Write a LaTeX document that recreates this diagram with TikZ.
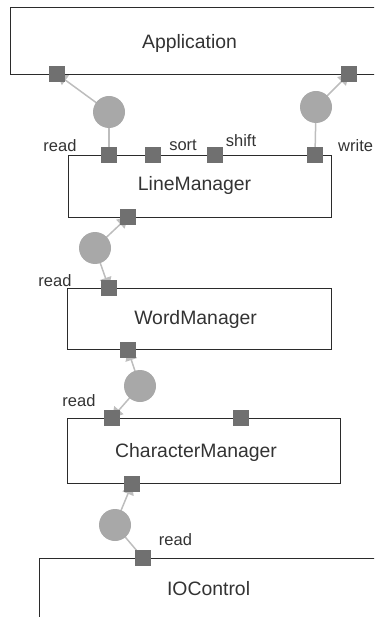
\documentclass[tikz,border=0pt]{standalone}
\usepackage{fontspec}
\setmainfont{Liberation Sans}
\usetikzlibrary{arrows.meta,backgrounds}
\definecolor{portc}{HTML}{707070}
\definecolor{circc}{HTML}{A8A8A8}
\definecolor{linec}{HTML}{BDBDBD}
\definecolor{edgec}{HTML}{2B2B2B}
\definecolor{txtc}{HTML}{333333}
\begin{document}
\begin{tikzpicture}[x=1pt,y=-1pt,
  comp/.style={draw=edgec,line width=1.1pt,rectangle,inner sep=0pt,anchor=north west},
  ctext/.style={text=txtc,font=\fontsize{19.4}{22}\selectfont},
  port/.style={rectangle,fill=portc,minimum size=15.5pt,inner sep=0pt},
  conn/.style={circle,fill=circc,minimum size=32pt,inner sep=0pt},
  lbl/.style={text=txtc,font=\fontsize{16.5}{19}\selectfont,inner sep=0pt},
  wire/.style={draw=linec,line width=1.5pt},
  tipped/.style={-{Triangle[length=10.5pt,width=12pt]}}
]
\path[use as bounding box] (0,0) rectangle (374,617);
\clip (0,0) rectangle (374,617);
% components
\node[comp,minimum width=380pt,minimum height=67pt,
  label={[ctext,xshift=-11pt,yshift=-2.5pt]center:Application}] (app) at (10,7) {};
\node[comp,minimum width=263pt,minimum height=62pt,
  label={[ctext,xshift=-5.5pt,yshift=1pt]center:LineManager}] (line) at (68,155) {};
\node[comp,minimum width=264pt,minimum height=61pt,
  label={[ctext,xshift=-4pt,yshift=-0.5pt]center:WordManager}] (word) at (67,288) {};
\node[comp,minimum width=273pt,minimum height=65pt,
  label={[ctext,xshift=-8pt,yshift=-1.5pt]center:CharacterManager}] (char) at (67,418) {};
\node[comp,minimum width=338pt,minimum height=60pt,
  label={[ctext]center:IOControl}] (io) at (39,558) {};
% connector circles
\node[conn] (k1) at (109,112) {};
\node[conn] (k2) at (316,107) {};
\node[conn] (k3) at (95,248) {};
\node[conn] (k4) at (140,386) {};
\node[conn] (k5) at (115,525) {};
% ports
\node[port] (appR) at (57,74) {};
\node[port] (appW) at (349,74) {};
\node[port] (lR) at (109,155) {};
\node[port] (lS) at (153,155) {};
\node[port] (lSh) at (215,155) {};
\node[port] (lW) at (315,155) {};
\node[port] (lB) at (128,217) {};
\node[port] (wR) at (109,288) {};
\node[port] (wB) at (128,350) {};
\node[port] (cR) at (112,418) {};
\node[port] (cX) at (241,418) {};
\node[port] (cB) at (132,484) {};
\node[port] (ioR) at (143,558) {};
% labels
\node[lbl] (t1) at (60,146) {read};
\node[lbl] (t2) at (183,145) {sort};
\node[lbl] (t3) at (241,141) {shift};
\node[lbl,anchor=west] (t4) at (338,146) {write};
\node[lbl] (t5) at (55,281) {read};
\node[lbl] (t6) at (79,401) {read};
\node[lbl] (t7) at (175.5,540) {read};
% connectors
\begin{scope}[on background layer]
\draw[wire,tipped] (k1.center) -- (appR.center);
\draw[wire] (k1.center) -- (lR.center);
\draw[wire,tipped] (k2.center) -- (appW.center);
\draw[wire] (k2.center) -- (lW.center);
\draw[wire,tipped] (k3.center) -- (lB.center);
\draw[wire,tipped] (k3.center) -- (wR.center);
\draw[wire,tipped] (k4.center) -- (wB.center);
\draw[wire,tipped] (k4.center) -- (cR.center);
\draw[wire,tipped] (k5.center) -- (cB.center);
\draw[wire] (k5.center) -- (ioR.center);
\end{scope}
\end{tikzpicture}
\end{document}
